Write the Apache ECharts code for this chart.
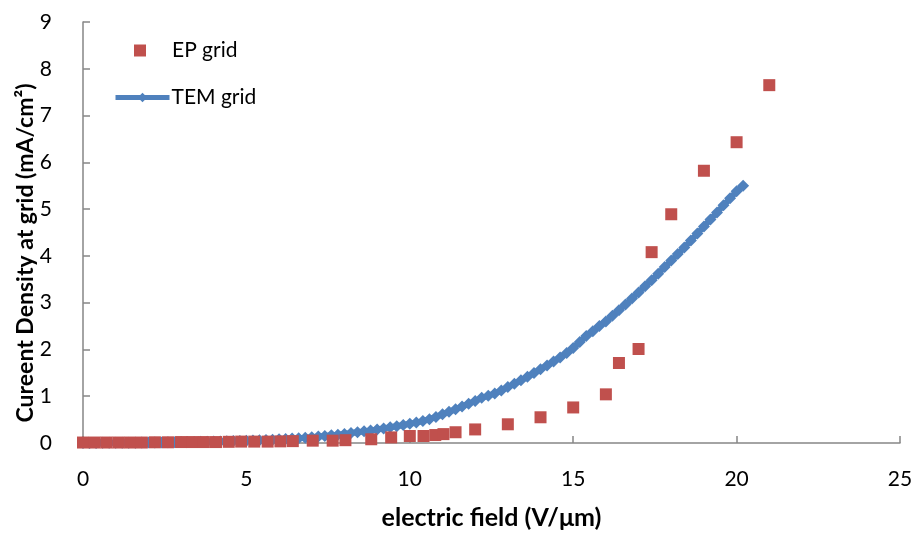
<!DOCTYPE html>
<html>
<head>
<meta charset="utf-8">
<script src="https://cdn.jsdelivr.net/npm/echarts@6/dist/echarts.min.js"></script>
<style>
html,body{margin:0;padding:0;background:#fff;}
#chart{width:916px;height:535px;}
</style>
</head>
<body>
<div id="chart"></div>
<script>
// EP grid (scatter, squares)
var epX = [0, 0.36, 0.72, 1.08, 1.44, 1.8, 2.2, 2.6, 3.0, 3.35, 3.7, 4.07, 4.46, 4.84, 5.24, 5.65, 6.04, 6.42, 7.03, 7.64, 8.03, 8.82, 9.43, 10.0, 10.42, 10.78, 11.03, 11.4, 12.0, 13.0, 14.0, 15.0, 16.0, 16.4, 17.0, 17.4, 18.0, 19.0, 20.0, 21.0];
var epY = [0.01, 0.01, 0.01, 0.01, 0.01, 0.01, 0.015, 0.015, 0.02, 0.02, 0.02, 0.02, 0.025, 0.03, 0.03, 0.03, 0.035, 0.04, 0.05, 0.05, 0.06, 0.08, 0.12, 0.15, 0.15, 0.17, 0.19, 0.23, 0.29, 0.40, 0.55, 0.76, 1.04, 1.71, 2.01, 4.08, 4.89, 5.82, 6.43, 7.65];

// TEM grid (line with diamond markers)
var temX = [0.0,0.2,0.4,0.6,0.8,1.0,1.2,1.4,1.6,1.8,2.0,2.2,2.4,2.6,2.8,3.0,3.2,3.4,3.6,3.8,4.0,4.2,4.4,4.6,4.8,5.0,5.2,5.4,5.6,5.8,6.0,6.2,6.4,6.6,6.8,7.0,7.2,7.4,7.6,7.8,8.0,8.2,8.4,8.6,8.8,9.0,9.2,9.4,9.6,9.8,10.0,10.2,10.4,10.6,10.8,11.0,11.2,11.4,11.6,11.8,12.0,12.2,12.4,12.6,12.8,13.0,13.2,13.4,13.6,13.8,14.0,14.2,14.4,14.6,14.8,15.0,15.2,15.4,15.6,15.8,16.0,16.2,16.4,16.6,16.8,17.0,17.2,17.4,17.6,17.8,18.0,18.2,18.4,18.6,18.8,19.0,19.2,19.4,19.6,19.8,20.0,20.2];
var temY = [0.000,0.001,0.002,0.003,0.004,0.005,0.006,0.007,0.008,0.009,0.010,0.012,0.013,0.015,0.017,0.019,0.021,0.023,0.025,0.028,0.031,0.034,0.037,0.041,0.045,0.050,0.055,0.060,0.066,0.072,0.079,0.087,0.095,0.104,0.114,0.125,0.137,0.150,0.164,0.179,0.195,0.212,0.230,0.249,0.269,0.290,0.312,0.335,0.359,0.384,0.410,0.437,0.468,0.510,0.558,0.612,0.666,0.722,0.780,0.840,0.900,0.965,1.010,1.060,1.125,1.195,1.265,1.340,1.415,1.495,1.575,1.655,1.740,1.830,1.925,2.030,2.160,2.290,2.390,2.500,2.600,2.720,2.840,2.960,3.090,3.220,3.350,3.480,3.620,3.760,3.900,4.040,4.180,4.330,4.480,4.630,4.780,4.930,5.080,5.230,5.380,5.500];

var xTicks = [0, 5, 10, 15, 20, 25];
var yTicks = [0, 1, 2, 3, 4, 5, 6, 7, 8, 9];
var seriesNames = ['EP grid', 'TEM grid'];
var xTitle = 'electric field (V/μm)';
var yTitle = 'Cureent Density at grid (mA/cm²)';

function pairs(xs, ys) { return xs.map(function (x, i) { return [x, ys[i]]; }); }

var FONT = 'Lato, "Liberation Sans", sans-serif';
var BLUE = '#4F81BD', RED = '#C0504D';
var chart = echarts.init(document.getElementById('chart'), null, {renderer: 'canvas'});
chart.setOption({
  animation: false,
  backgroundColor: '#ffffff',
  grid: {left: 83, right: 16, top: 22, bottom: 87, containLabel: false},
  xAxis: {
    type: 'value', min: xTicks[0], max: xTicks[xTicks.length - 1], interval: 5,
    splitLine: {show: false},
    axisLine: {show: true, onZero: false, lineStyle: {color: '#868686', width: 1.5}},
    axisTick: {show: true, inside: true, length: 7, lineStyle: {color: '#868686', width: 1.5}},
    axisLabel: {color: '#000', fontSize: 21, fontFamily: FONT, margin: 26},
    name: xTitle, nameLocation: 'middle', nameGap: 62,
    nameTextStyle: {color: '#000', fontSize: 25, fontWeight: 'bold', fontFamily: FONT}
  },
  yAxis: {
    type: 'value', min: yTicks[0], max: yTicks[yTicks.length - 1], interval: 1,
    splitLine: {show: false},
    axisLine: {show: true, onZero: false, lineStyle: {color: '#868686', width: 1.5}},
    axisTick: {show: true, inside: true, length: 7, lineStyle: {color: '#868686', width: 1.5}},
    axisLabel: {color: '#000', fontSize: 21, fontFamily: FONT, margin: 31}
  },
  graphic: [{
    type: 'text', rotation: Math.PI / 2,
    x: 26, y: 253,
    style: {text: yTitle, fill: '#000', font: 'bold 23px ' + FONT, textAlign: 'center', textVerticalAlign: 'middle'}
  }],
  legend: [{
    data: [{name: seriesNames[0], icon: 'rect'}], left: 129, top: 35, itemWidth: 12, itemHeight: 12,
    textStyle: {fontSize: 21, fontFamily: FONT, color: '#000', padding: [0, 0, 0, 21]}
  }, {
    data: [seriesNames[1]], left: 108, top: 82, itemWidth: 54, itemHeight: 12,
    lineStyle: {width: 5, color: BLUE},
    textStyle: {fontSize: 21, fontFamily: FONT, color: '#000', padding: [0, 0, 0, -3]}
  }],
  series: [{
    name: seriesNames[1], type: 'line', data: pairs(temX, temY),
    symbol: 'diamond', symbolSize: 12, showSymbol: true,
    lineStyle: {color: BLUE, width: 6},
    itemStyle: {color: BLUE}, z: 2
  }, {
    name: seriesNames[0], type: 'scatter', data: pairs(epX, epY),
    symbol: 'rect', symbolSize: 12,
    itemStyle: {color: RED, opacity: 1}, z: 3
  }]
});
</script>
</body>
</html>
